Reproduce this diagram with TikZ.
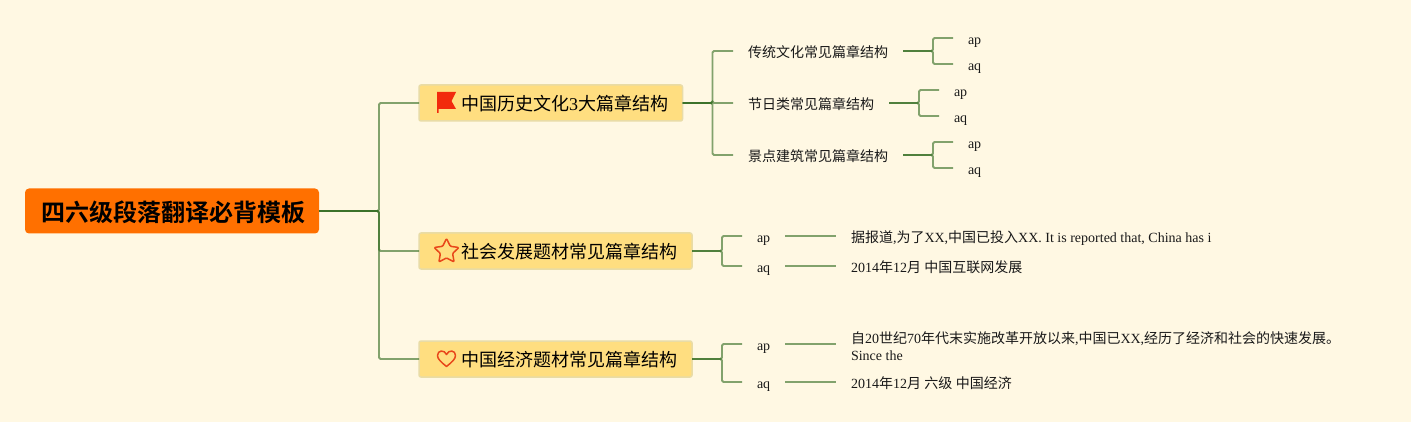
\documentclass[tikz,border=0pt]{standalone}
\usepackage{fontspec}
\setmainfont{Liberation Serif}
\newfontfamily\cjk{Noto Sans CJK SC}
\newfontfamily\cjkbold{Noto Sans CJK SC Bold}
\newcommand{\Zh}[1]{{\cjk #1}}
\definecolor{bgc}{HTML}{FFF8E3}
\definecolor{rootc}{HTML}{FF7000}
\definecolor{boxc}{HTML}{FFDE80}
\definecolor{boxb}{HTML}{E9DCA6}
\definecolor{linec}{HTML}{2F6A1E}
\definecolor{iconc}{HTML}{E8471A}
\definecolor{flagc}{HTML}{F22A0C}
\tikzset{
  rootbox/.style={fill=rootc,rounded corners=4pt,minimum width=294pt,minimum height=45pt,inner sep=0pt,outer sep=0pt,anchor=west,font=\fontsize{24}{28}\selectfont\cjkbold,text=black,text height=25pt,text depth=3pt},
  branchbox/.style={fill=boxc,draw=boxb,line width=1.5pt,rounded corners=2pt,minimum height=36pt,inner xsep=0pt,inner ysep=0pt,outer sep=0pt,anchor=west,font=\fontsize{18}{22}\selectfont,text height=19pt,text depth=4pt,text=black},
  leaf/.style={inner xsep=15pt,inner ysep=0pt,outer sep=0pt,anchor=west,font=\fontsize{14}{18}\selectfont,text height=17.5pt,text depth=4pt,text=black!90},
  longtext/.style={inner xsep=15pt,inner ysep=0pt,outer sep=0pt,anchor=west,align=left,font=\fontsize{14}{17.5}\selectfont,text=black!90},
  link/.style={draw=linec,draw opacity=0.6,line width=1.8pt,rounded corners=1.5pt},
  icon/.style={draw=iconc,line width=1.5pt,line join=round},
}
\begin{document}
\begin{tikzpicture}[x=1pt,y=-1pt]
\useasboundingbox (0,0) rectangle (1411,422);
\fill[bgc] (0,0) rectangle (1411,422);
% root and branches
\node[rootbox] (root) at (25,211) {\hspace*{2pt}四六级段落翻译必背模板};
\node[branchbox] (b1) at (419,103) {\hspace*{42pt}\Zh{中国历史文化}3\Zh{大篇章结构}\hspace*{14.5pt}};
\node[branchbox] (b2) at (419,251) {\hspace*{42pt}\Zh{社会发展题材常见篇章结构}\hspace*{15pt}};
\node[branchbox] (b3) at (419,359) {\hspace*{42pt}\Zh{中国经济题材常见篇章结构}\hspace*{15pt}};
% level two under b1
\node[leaf] (c1) at (733,51) {\Zh{传统文化常见篇章结构}};
\node[leaf] (c2) at (733,103) {\Zh{节日类常见篇章结构}};
\node[leaf] (c3) at (733,155) {\Zh{景点建筑常见篇章结构}};
\node[leaf] (c1p) at (953,38) {ap};
\node[leaf] (c1q) at (953,64) {aq};
\node[leaf] (c2p) at (939,90) {ap};
\node[leaf] (c2q) at (939,116) {aq};
\node[leaf] (c3p) at (953,142) {ap};
\node[leaf] (c3q) at (953,168) {aq};
% level two under b2, b3
\node[leaf] (d1) at (742,236) {ap};
\node[leaf] (d2) at (742,266) {aq};
\node[leaf] (e1) at (742,344) {ap};
\node[leaf] (e2) at (742,382) {aq};
\node[leaf] (t1) at (836,236) {\Zh{据报道},\Zh{为了}XX,\Zh{中国已投入}XX. It is reported that, China has i};
\node[leaf] (t2) at (836,266) {2014\Zh{年}12\Zh{月} \Zh{中国互联网发展}};
\node[longtext] (t3) at (836,346) {\Zh{自}20\Zh{世纪}70\Zh{年代末实施改革开放以来},\Zh{中国已}XX,\Zh{经历了经济和社会的快速发展。}\\Since the};
\node[leaf] (t4) at (836,382) {2014\Zh{年}12\Zh{月} \Zh{六级} \Zh{中国经济}};
% connectors
\foreach \k in {b1,b2,b3} \draw[link] (root.east) -- ++(60,0) |- (\k.west);
\foreach \k in {c1,c2,c3} \draw[link] (b1.east) -- ++(30,0) |- (\k.west);
\foreach \k in {c1p,c1q} \draw[link] (c1.east) -- ++(30,0) |- (\k.west);
\foreach \k in {c2p,c2q} \draw[link] (c2.east) -- ++(30,0) |- (\k.west);
\foreach \k in {c3p,c3q} \draw[link] (c3.east) -- ++(30,0) |- (\k.west);
\foreach \k in {d1,d2} \draw[link] (b2.east) -- ++(30,0) |- (\k.west);
\foreach \k in {e1,e2} \draw[link] (b3.east) -- ++(30,0) |- (\k.west);
\draw[link] (d1.east) -- (t1.west);
\draw[link] (d2.east) -- (t2.west);
\draw[link] (e1.east) -- (e1.east -| t3.west);
\draw[link] (e2.east) -- (t4.west);
% icons
\fill[flagc] (437,92) -- (456,92) -- (451.5,101) -- (456,109) -- (438.5,109) -- (438.5,113) -- (437,113) -- cycle;
\begin{scope}[shift={(446.5,251.5)}]
\draw[icon,rounded corners=1pt] (0,-13) -- (3.8,-5.2) -- (12.4,-4) -- (6.1,2) -- (7.6,10.5) -- (0,6.4) -- (-7.6,10.5) -- (-6.1,2) -- (-12.4,-4) -- (-3.8,-5.2) -- cycle;
\end{scope}
\draw[icon] (446.5,366.5) .. controls (441,362) and (437.5,359) .. (437.5,355.5) .. controls (437.5,350) and (444.5,349.5) .. (446.5,354.5) .. controls (448.5,349.5) and (455.5,350) .. (455.5,355.5) .. controls (455.5,359) and (452,362) .. (446.5,366.5) -- cycle;
\end{tikzpicture}
\end{document}
